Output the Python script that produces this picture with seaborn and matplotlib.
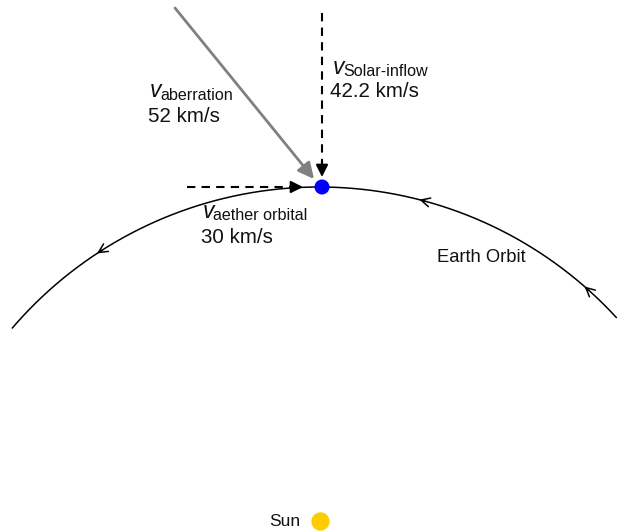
import numpy as np
import pandas as pd
import seaborn as sns
import matplotlib.pyplot as plt

# orbit geometry (pixel space of the diagram, y grows downward)
orbit_center = (319, 591)
orbit_radius = 404
orbit_start_deg = 42.6
orbit_end_deg = 139.4
orbit_arrow_deg = [48.5, 75.2, 122.9]

# bodies
body_names = ['Earth', 'Sun']
body_x = [322, 320.5]
body_y = [187, 521.5]
body_colors = ['#0000ff', '#ffcc00']
body_sizes = [117, 174]

# velocity vectors: start -> tip
vec_names = ['aberration', 'Solar-inflow', 'aether orbital']
vec_speed = ['52 km/s', '42.2 km/s', '30 km/s']
vec_start = [(175, 8), (322, 13), (187, 187)]
vec_tip = [(314, 179), (322, 177), (303, 187)]
vec_color = ['#808080', 'black', 'black']
vec_dashed = [False, True, True]
vec_label_pos = [(150, 97), (333, 73.5), (203, 218)]
vec_value_pos = [(148, 122.5), (330, 97), (201, 243)]

sns.set_theme(style='white')
plt.rcParams['font.family'] = ['Liberation Sans', 'DejaVu Sans']

fig = plt.figure(figsize=(6.18, 5.32), dpi=100)
ax = fig.add_axes([0, 0, 1, 1])

# Earth orbit arc
theta = np.radians(np.linspace(orbit_start_deg, orbit_end_deg, 300))
orbit = pd.DataFrame({
    'x': orbit_center[0] + orbit_radius * np.cos(theta),
    'y': orbit_center[1] - orbit_radius * np.sin(theta),
})
sns.lineplot(data=orbit, x='x', y='y', sort=False, color='black', linewidth=1.1, ax=ax)

# small open arrowheads along the orbit (counter-clockwise)
for a in orbit_arrow_deg:
    t = np.radians(a)
    px = orbit_center[0] + orbit_radius * np.cos(t)
    py = orbit_center[1] - orbit_radius * np.sin(t)
    dx, dy = -np.sin(t), -np.cos(t)
    ax.annotate('', xy=(px + dx * 3, py + dy * 3), xytext=(px - dx * 3, py - dy * 3),
                arrowprops=dict(arrowstyle='->', color='black', lw=1.1,
                                mutation_scale=16, shrinkA=0, shrinkB=0))

# velocity arrows
for s, t, c, d in zip(vec_start, vec_tip, vec_color, vec_dashed):
    if d:
        ax.plot([s[0], t[0] - (t[0] - s[0]) * 0.05], [s[1], t[1] - (t[1] - s[1]) * 0.05],
                color=c, lw=1.5, dashes=(4, 3))
        ax.annotate('', xy=t, xytext=(t[0] - (t[0] - s[0]) * 0.1, t[1] - (t[1] - s[1]) * 0.1),
                    arrowprops=dict(arrowstyle='-|>', color=c, lw=1.5,
                                    mutation_scale=18, shrinkA=0, shrinkB=0))
    else:
        ax.annotate('', xy=t, xytext=s,
                    arrowprops=dict(arrowstyle='-|>', color=c, lw=2.0,
                                    mutation_scale=24, shrinkA=0, shrinkB=0))

# Earth and Sun
bodies = pd.DataFrame({'name': body_names, 'x': body_x, 'y': body_y})
sns.scatterplot(data=bodies, x='x', y='y', hue='name', palette=body_colors,
                size='name', sizes=dict(zip(body_names, body_sizes)),
                linewidth=0, legend=False, zorder=5, ax=ax)

# labels
for name, speed, lp, vp in zip(vec_names, vec_speed, vec_label_pos, vec_value_pos):
    ax.text(lp[0], lp[1], 'v', fontsize=16.5, style='italic', va='baseline', ha='left', color='#111111')
    ax.text(lp[0] + 10, lp[1] + 2.5, name, fontsize=11.6, va='baseline', ha='left', color='#111111')
    ax.text(vp[0], vp[1], speed, fontsize=14.8, va='baseline', ha='left', color='#111111')

ax.text(437, 262, 'Earth Orbit', fontsize=13.2, va='baseline', ha='left', color='#111111')
ax.text(300, 526.5, 'Sun', fontsize=12.5, va='baseline', ha='right', color='#111111')

ax.set_xlim(0, 618)
ax.set_ylim(532, 0)
ax.axis('off')

plt.savefig('out.png', dpi=100)
